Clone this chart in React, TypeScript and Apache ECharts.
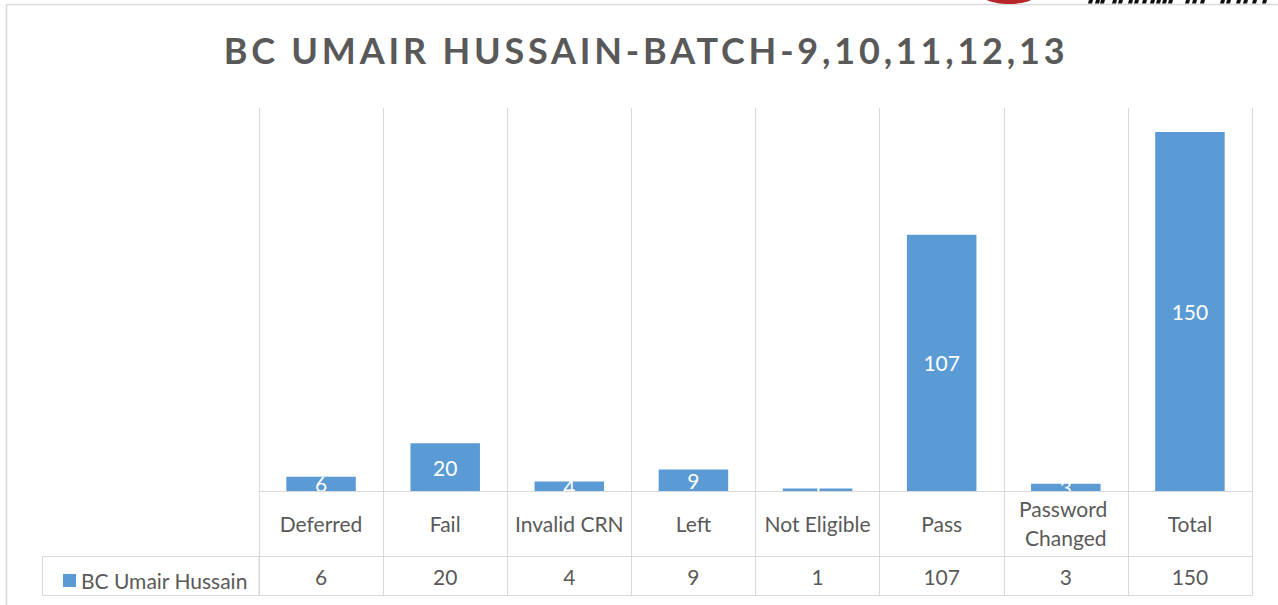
import React, { useEffect, useRef } from "react";
import * as echarts from "echarts";

const titleText = "BC UMAIR HUSSAIN-BATCH-9,10,11,12,13";
const seriesName = "BC Umair Hussain";
const categories = [
  "Deferred",
  "Fail",
  "Invalid CRN",
  "Left",
  "Not Eligible",
  "Pass",
  "Password Changed",
  "Total",
];
const values = [6, 20, 4, 9, 1, 107, 3, 150];
const yMax = 160;

const FONT = "Lato, 'Noto Sans', sans-serif";
const GRID = "#d9d9d9";
const TXT = "#595959";
const BAR = "#5B9BD5";

// decorative strokes of a cropped logo wordmark at the page top (x offsets)
const logoStrokes = [
  1088, 1095, 1100, 1112, 1118, 1128, 1134, 1142, 1150, 1156, 1162, 1168,
  1185, 1192, 1200, 1220, 1226, 1236, 1243, 1252, 1262,
];

export default function App() {
  const ref = useRef<HTMLDivElement>(null);

  useEffect(() => {
    if (!ref.current) return;
    const chart = echarts.init(ref.current, null, { renderer: "svg" });

    const logoGraphics = logoStrokes.map((x) => ({
      type: "polygon",
      silent: true,
      shape: {
        points: [
          [x + 1, 0],
          [x + 5, 0],
          [x + 4, 3.5],
          [x, 3.5],
        ],
      },
      style: { fill: "#111111" },
    }));

    const option: any = {
      animation: false,
      backgroundColor: "#ffffff",
      title: {
        text: titleText,
        left: 641,
        textAlign: "center",
        top: 27,
        textStyle: {
          fontFamily: FONT,
          fontSize: 36,
          fontWeight: "bold",
          color: TXT,
        },
      },
      legend: {
        data: [seriesName],
        left: 58,
        top: 565,
        icon: "rect",
        itemWidth: 13,
        itemHeight: 13,
        itemGap: 6,
        textStyle: { fontFamily: FONT, fontSize: 21, color: TXT },
      },
      grid: { left: 259, right: 26, top: 108, bottom: 114, containLabel: false },
      xAxis: [
        {
          type: "category",
          data: categories,
          position: "bottom",
          z: 5,
          axisLine: { show: true, lineStyle: { color: GRID, width: 1 } },
          axisTick: {
            show: true,
            interval: 0,
            length: 65,
            lineStyle: { color: GRID, width: 1 },
          },
          axisLabel: {
            interval: 0,
            margin: 32,
            verticalAlign: "middle",
            width: 118,
            overflow: "break",
            lineHeight: 29,
            fontFamily: FONT,
            fontSize: 21,
            color: TXT,
          },
          splitLine: { show: true, interval: 0, lineStyle: { color: GRID, width: 1 } },
        },
        {
          type: "category",
          data: categories,
          position: "bottom",
          offset: 65,
          z: 5,
          axisLine: { show: true, lineStyle: { color: GRID, width: 1 } },
          axisTick: {
            show: true,
            interval: 0,
            length: 39,
            lineStyle: { color: GRID, width: 1 },
          },
          axisLabel: {
            interval: 0,
            margin: 20,
            verticalAlign: "middle",
            formatter: (_v: string, i: number) => String(values[i]),
            fontFamily: FONT,
            fontSize: 21,
            color: TXT,
          },
          splitLine: { show: false },
        },
        {
          type: "category",
          data: categories,
          position: "bottom",
          offset: 104,
          z: 5,
          axisLine: { show: true, lineStyle: { color: GRID, width: 1 } },
          axisTick: { show: false },
          axisLabel: { show: false },
          splitLine: { show: false },
        },
      ],
      yAxis: {
        type: "value",
        min: 0,
        max: yMax,
        show: false,
        splitLine: { show: false },
      },
      series: [
        {
          name: seriesName,
          type: "bar",
          xAxisIndex: 0,
          data: values,
          barWidth: "56%",
          itemStyle: { color: BAR },
          label: {
            show: true,
            position: "inside",
            color: "#ffffff",
            fontFamily: FONT,
            fontSize: 21,
          },
        },
      ],
      graphic: [
        {
          type: "rect",
          silent: true,
          shape: { x: 6.5, y: 4.5, width: 1320, height: 700 },
          style: { fill: "none", stroke: GRID, lineWidth: 1.5 },
          z: 0,
        },
        {
          type: "rect",
          silent: true,
          shape: { x: 42.5, y: 556.5, width: 216.5, height: 39 },
          style: { fill: "none", stroke: GRID, lineWidth: 1 },
          z: 1,
        },
        {
          type: "ellipse",
          silent: true,
          shape: { cx: 1009, cy: -9, rx: 31, ry: 13 },
          style: { fill: "#b8262c" },
        },
        ...logoGraphics,
      ],
    };

    chart.setOption(option);

    const spaceTitle = () => {
      const texts = ref.current?.querySelectorAll("text") || [];
      texts.forEach((t: any) => {
        if (t.textContent === titleText) {
          t.setAttribute("letter-spacing", "3.8");
        }
      });
    };
    spaceTitle();
    chart.on("finished", spaceTitle);

    return () => {
      chart.dispose();
    };
  }, []);

  return (
    <div
      ref={ref}
      style={{ position: "absolute", left: 0, top: 0, width: 1278, height: 605 }}
    />
  );
}
